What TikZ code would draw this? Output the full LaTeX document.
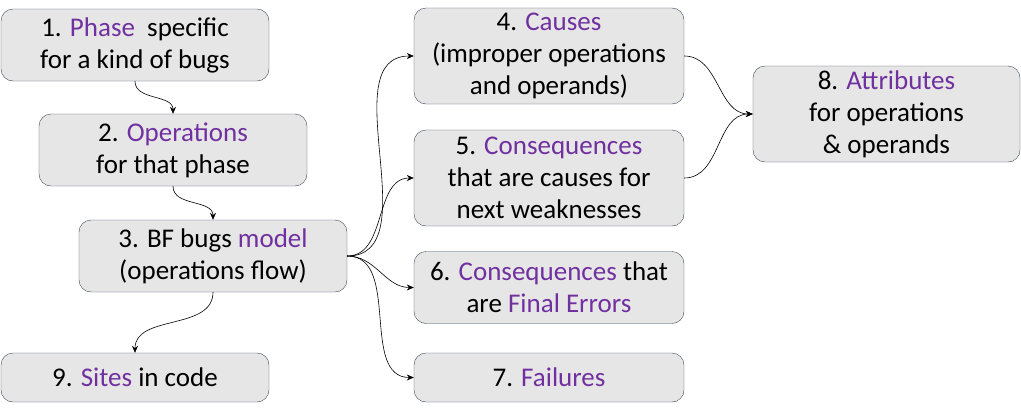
\documentclass[tikz,border=0pt]{standalone}
\usepackage{fontspec}
\setmainfont{Carlito}
\usetikzlibrary{arrows.meta}
\definecolor{boxfill}{HTML}{E7E6E6}
\definecolor{boxline}{HTML}{3B4A5E}
\definecolor{violet}{HTML}{7030A0}
\newcommand{\pur}[1]{\textcolor{violet}{#1}}
\begin{document}
\begin{tikzpicture}[x = 1pt, y = -1pt,
		box/.style = {draw = boxline, fill = boxfill, rounded corners = 12pt, align = center,
			minimum width = 268pt, inner sep = 0pt, font = \fontsize{27}{32}\selectfont},
		link/.style = {-{Stealth[length = 7pt, width = 6pt]}, black, line width = 0.6pt}]
	\useasboundingbox (0, 0) rectangle (1021, 410);
	
	\node[box, minimum height = 72pt] (phase) at (135, 45) {1. \pur{Phase}~ specific\\for a kind of bugs};
	\node[box, minimum height = 72pt] (ops) at (173, 150) {2. \pur{Operations}\\for that phase};
	\node[box, minimum height = 72pt] (model) at (213, 256) {3. BF bugs \pur{model}\\(operations flow)};
	\node[box, minimum height = 49pt] (sites) at (135, 377.5) {9. \pur{Sites} in code};
	
	\node[box, minimum width = 270pt, minimum height = 96pt] (causes) at (549, 56) {4. \pur{Causes}\\(improper operations\\and operands)};
	\node[box, minimum width = 270pt, minimum height = 96pt] (conseq) at (549, 178) {5. \pur{Consequences}\\that are causes for\\next weaknesses};
	\node[box, minimum width = 270pt, minimum height = 72pt] (errors) at (549, 287.5) {6. \pur{Consequences} that\\are \pur{Final Errors}};
	\node[box, minimum width = 270pt, minimum height = 49pt] (fail) at (549, 377.5) {7. \pur{Failures}};
	
	\node[box, minimum width = 267pt, minimum height = 96pt] (attr) at (886.5, 114) {8. \pur{Attributes}\\for operations\\\& operands};
	
	% top-down chain on the left
	\draw[link] (phase.south) to[out = -90, in = 90] (ops.north);
	\draw[link] (ops.south) to[out = -90, in = 90] (model.north);
	\draw[link] (model.south) to[out = -90, in = 90] (sites.north);
	
	% from the model to the right column
	\foreach \t in {causes, conseq, errors, fail} {
		\draw[link] (model.east) to[out = 0, in = 180] (\t.west);
	}
	
	\foreach \s in {causes, conseq} {
		\draw[link] (\s.east) to[out = 0, in = 180] (attr.west);
	}
\end{tikzpicture}
\end{document}
